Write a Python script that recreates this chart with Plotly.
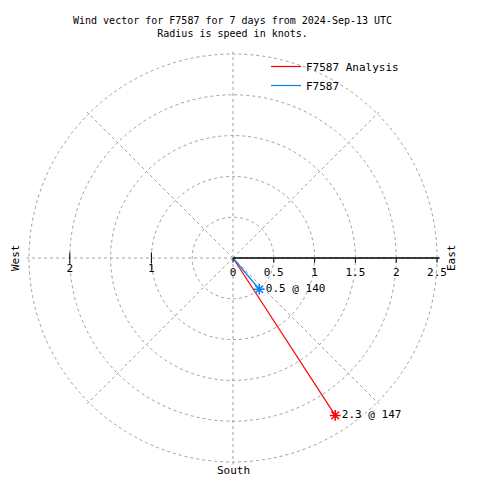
import plotly.graph_objects as go

# Data
series_names = ["F7587 Analysis", "F7587"]
speeds = [2.3, 0.5]          # knots
directions = [147, 140]      # degrees, compass
colors = ["#ff0000", "#0a7ff5"]
radial_ticks = [0, 0.5, 1, 1.5, 2, 2.5]
radial_tick_labels = ["0", "0.5", "1", "1.5", "2", "2.5"]
west_ticks = [1, 2]
west_tick_labels = ["1", "2"]

FONT = "DejaVu Sans Mono"
OFF = 8  # page body margin
W = H = 480
RMAX = 2.53
CX, CY, R25 = 233, 258, 204
RPX = R25 * RMAX / 2.5


def px(x):
    return (x - OFF) / W


def py(y):
    return 1 - (y - OFF) / H


fig = go.Figure()

for name, s, d, c in zip(series_names, speeds, directions, colors):
    fig.add_trace(go.Scatterpolar(
        r=[0, s], theta=[d, d], mode="lines",
        line=dict(color=c, width=1.2), name=name, showlegend=True,
    ))
for name, s, d, c in zip(series_names, speeds, directions, colors):
    fig.add_trace(go.Scatterpolar(
        r=[s], theta=[d], mode="markers+text",
        marker=dict(symbol="asterisk-open", size=9,
                    color=c, line=dict(color=c, width=1.5)),
        text=[f"{s} @ {d}"], textposition="middle right",
        textfont=dict(family=FONT, size=11, color="black"),
        showlegend=False,
    ))

# tick marks / labels on the west half of the horizontal axis
fig.add_trace(go.Scatterpolar(
    r=west_ticks, theta=[270] * len(west_ticks), mode="markers+text",
    marker=dict(symbol="line-ns-open", size=8, color="black",
                line=dict(color="black", width=1)),
    text=west_tick_labels, textposition="bottom center",
    textfont=dict(family=FONT, size=11, color="black"),
    showlegend=False, hoverinfo="skip",
))


def ann(text, x, y, angle=0, size=11):
    return dict(text=text, x=px(x), y=py(y), xref="paper", yref="paper",
                xanchor="center", yanchor="middle", textangle=angle,
                showarrow=False, font=dict(family=FONT, size=size))


fig.update_layout(
    width=W, height=H,
    margin=dict(l=0, r=0, t=0, b=0),
    paper_bgcolor="white",
    font=dict(family=FONT, size=11, color="black"),
    showlegend=True,
    legend=dict(x=px(266), y=py(52), xanchor="left", yanchor="top",
                bgcolor="rgba(0,0,0,0)", font=dict(family=FONT, size=11),
                tracegroupgap=0, itemwidth=30),
    polar=dict(
        domain=dict(x=[px(CX - RPX), px(CX + RPX)],
                    y=[py(CY + RPX), py(CY - RPX)]),
        bgcolor="white",
        angularaxis=dict(rotation=90, direction="clockwise",
                         dtick=45, showticklabels=False, ticks="",
                         showline=False, gridcolor="#a0a0a0",
                         griddash="3px,3px", gridwidth=1),
        radialaxis=dict(range=[0, RMAX], angle=0, tickangle=0,
                        tickvals=radial_ticks, ticktext=radial_tick_labels,
                        ticks="outside", ticklen=4, tickcolor="black",
                        showline=True, linecolor="black", linewidth=1.5,
                        gridcolor="#a0a0a0", griddash="3px,3px", gridwidth=1,
                        tickfont=dict(family=FONT, size=11, color="black")),
    ),
    annotations=[
        ann("Wind vector for F7587 for 7 days from 2024-Sep-13 UTC<br>Radius is speed in knots.",
            232, 27, size=10),
        ann("West", 15, 258, angle=-90),
        ann("East", 451, 258, angle=-90),
        ann("South", 233, 470),
    ],
)

fig.write_html("out.html")
